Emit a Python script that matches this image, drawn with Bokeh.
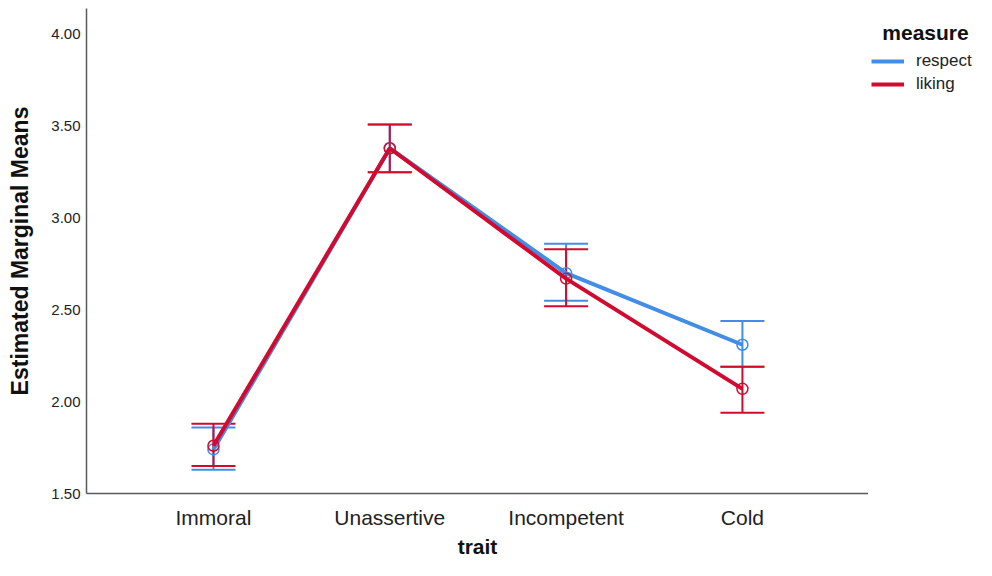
from bokeh.plotting import figure
from bokeh.layouts import row
from bokeh.models import (Range1d, FixedTicker, NumeralTickFormatter, Whisker, TeeHead,
                          ColumnDataSource, Legend, LegendItem, Label)
from bokeh.embed import file_html
from bokeh.resources import INLINE

traits = ["Immoral", "Unassertive", "Incompetent", "Cold"]
respect_mean = [1.74, 3.38, 2.70, 2.31]
respect_lower = [1.63, 3.25, 2.55, 2.19]
respect_upper = [1.86, 3.51, 2.86, 2.44]
liking_mean = [1.76, 3.38, 2.67, 2.07]
liking_lower = [1.65, 3.25, 2.52, 1.94]
liking_upper = [1.88, 3.51, 2.83, 2.19]
y_ticks = [1.5, 2.0, 2.5, 3.0, 3.5, 4.0]
series_names = ["respect", "liking"]

BLUE = "#428DE6"
RED = "#D20A30"
FONT = "Liberation Sans"

xpos = list(range(len(traits)))

p = figure(width=868, height=560, output_backend="svg", toolbar_location=None,
           x_range=Range1d(-0.72, 3.715), y_range=Range1d(1.5, 4.141),
           min_border_left=86, min_border_right=0, min_border_top=8, min_border_bottom=64)
p.outline_line_color = None
p.xgrid.grid_line_color = None
p.ygrid.grid_line_color = None

series = [(series_names[0], BLUE, respect_mean, respect_lower, respect_upper),
          (series_names[1], RED, liking_mean, liking_lower, liking_upper)]
for name, col, m, lo, up in series:
    src = ColumnDataSource(dict(x=xpos, m=m, lo=lo, up=up))
    w = Whisker(base="x", upper="up", lower="lo", source=src, line_color=col, line_width=2,
                upper_head=TeeHead(size=44, line_color=col, line_width=2),
                lower_head=TeeHead(size=44, line_color=col, line_width=2))
    p.add_layout(w)
    p.line("x", "m", source=src, line_color=col, line_width=4)
    p.scatter("x", "m", source=src, size=11, fill_color=None, line_color=col, line_width=1.5)

p.xaxis.ticker = FixedTicker(ticks=xpos)
p.xaxis.major_label_overrides = {i: t for i, t in zip(xpos, traits)}
p.yaxis.ticker = FixedTicker(ticks=y_ticks)
p.yaxis.formatter = NumeralTickFormatter(format="0.00")

for ax in (p.xaxis[0], p.yaxis[0]):
    ax.axis_line_color = "#5a5a5a"
    ax.axis_line_width = 1.5
    ax.major_tick_line_color = None
    ax.minor_tick_line_color = None
    ax.major_tick_out = 0
    ax.major_tick_in = 0
    ax.major_label_text_font = FONT
    ax.major_label_text_color = "#222222"
    ax.axis_label_text_font = FONT
    ax.axis_label_text_font_style = "bold"
    ax.axis_label_text_color = "#111111"

p.xaxis.major_label_text_font_size = "21px"
p.xaxis.major_label_standoff = 12
p.xaxis.axis_label = "trait"
p.xaxis.axis_label_text_font_size = "21px"
p.xaxis.axis_label_standoff = 3
p.yaxis.major_label_text_font_size = "15px"
p.yaxis.major_label_standoff = 6
p.yaxis.axis_label = "Estimated Marginal Means"
p.yaxis.axis_label_text_font_size = "23px"
p.yaxis.axis_label_standoff = 15

# legend panel (its frame is aligned with the main frame; y data = page pixels)
p2 = figure(width=108, height=560, output_backend="svg", toolbar_location=None,
            x_range=Range1d(0, 108), y_range=Range1d(496, 8),
            x_axis_location=None, y_axis_location=None,
            min_border_left=0, min_border_right=0, min_border_top=8, min_border_bottom=64)
p2.outline_line_color = None
p2.xgrid.grid_line_color = None
p2.ygrid.grid_line_color = None
items = []
for name, col in zip(series_names, [BLUE, RED]):
    r = p2.line(x=[float("nan")], y=[float("nan")], line_color=col, line_width=4)
    items.append(LegendItem(label=name, renderers=[r]))
legend = Legend(items=items, location=(3, 399),
                label_text_font=FONT, label_text_font_size="17px", label_text_color="#222222",
                glyph_width=33, glyph_height=20, label_height=20, spacing=3, label_standoff=12,
                background_fill_alpha=0, border_line_color=None, padding=0, margin=0)
p2.add_layout(legend, "center")
p2.add_layout(Label(x=57, y=32, text="measure", text_align="center", text_baseline="middle",
                    text_font=FONT, text_font_style="bold", text_font_size="21px",
                    text_color="#111111"))

layout = row(p, p2, spacing=0)
open("out.html", "w").write(file_html(layout, INLINE))
